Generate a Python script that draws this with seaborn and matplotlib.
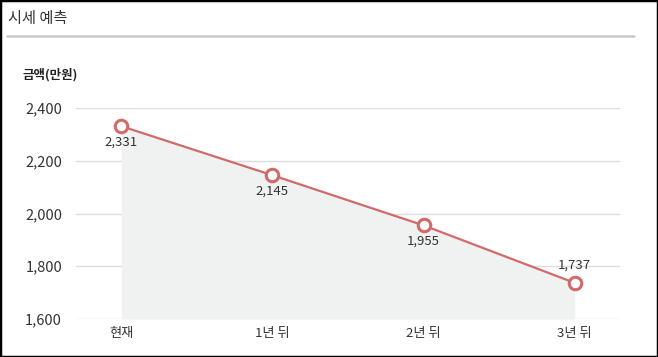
import matplotlib
matplotlib.use("Agg")
import matplotlib.pyplot as plt
import seaborn as sns
import pandas as pd
from matplotlib.patches import Rectangle
from matplotlib.lines import Line2D

categories = ["현재", "1년 뒤", "2년 뒤", "3년 뒤"]
values = [2331, 2145, 1955, 1737]
yticks = [1600, 1800, 2000, 2200, 2400]
title = "시세 예측"
ylabel = "금액(만원)"

sns.set_theme(style="white")
plt.rcParams['font.family'] = ['Noto Sans CJK KR', 'DejaVu Sans']

W, H = 658, 357
fig = plt.figure(figsize=(W / 100, H / 100), dpi=100)
ax = fig.add_axes([76 / W, 1 - 319 / H, (620 - 76) / W, (319 - 108) / H])

df = pd.DataFrame({"x": range(len(categories)), "v": values})
line_color = "#d26a6a"

ax.fill_between(df["x"], df["v"], 1600, color="#f0f1f1", zorder=1, linewidth=0)
sns.lineplot(data=df, x="x", y="v", ax=ax, color=line_color, linewidth=1.6,
             marker="o", markersize=9, markerfacecolor="white",
             markeredgecolor=line_color, markeredgewidth=2.2, zorder=3)

for i, v in enumerate(values):
    if i == len(values) - 1:
        ax.annotate(f"{v:,}", (i, v), xytext=(0, 8), textcoords="offset points",
                    ha="center", va="bottom", fontsize=9.5, color="#333333")
    else:
        ax.annotate(f"{v:,}", (i, v), xytext=(0, -7), textcoords="offset points",
                    ha="center", va="top", fontsize=9.5, color="#333333")

ax.set_xlim(-0.3, 3.3)
ax.set_ylim(1600, 2400)
ax.set_yticks(yticks)
ax.set_yticklabels([f"{t:,}" for t in yticks], fontsize=10.5, color="#333333")
ax.set_xticks(range(len(categories)))
ax.set_xticklabels(categories, fontsize=9.5, color="#333333")
ax.tick_params(axis="y", length=0, pad=10)
ax.tick_params(axis="x", length=0, pad=6)
ax.set_xlabel("")
ax.set_ylabel("")
ax.grid(axis="y", color="#dddddd", linewidth=1)
ax.set_axisbelow(True)
for s in ax.spines.values():
    s.set_visible(False)

fig.text(8 / W, 1 - 18 / H, title, fontsize=11, color="#333333", va="center", ha="left")
fig.add_artist(Line2D([7 / W, 634 / W], [1 - 36 / H, 1 - 36 / H], color="#c8c8c8",
                      linewidth=1.8, transform=fig.transFigure))
fig.text(22 / W, 1 - 75 / H, ylabel, fontsize=9, fontweight="bold", color="#222222",
         va="center", ha="left")
fig.add_artist(Rectangle((0, 0), 1, 1, transform=fig.transFigure, fill=False,
                         edgecolor="black", linewidth=2.5))

fig.savefig("out.png", dpi=100)
